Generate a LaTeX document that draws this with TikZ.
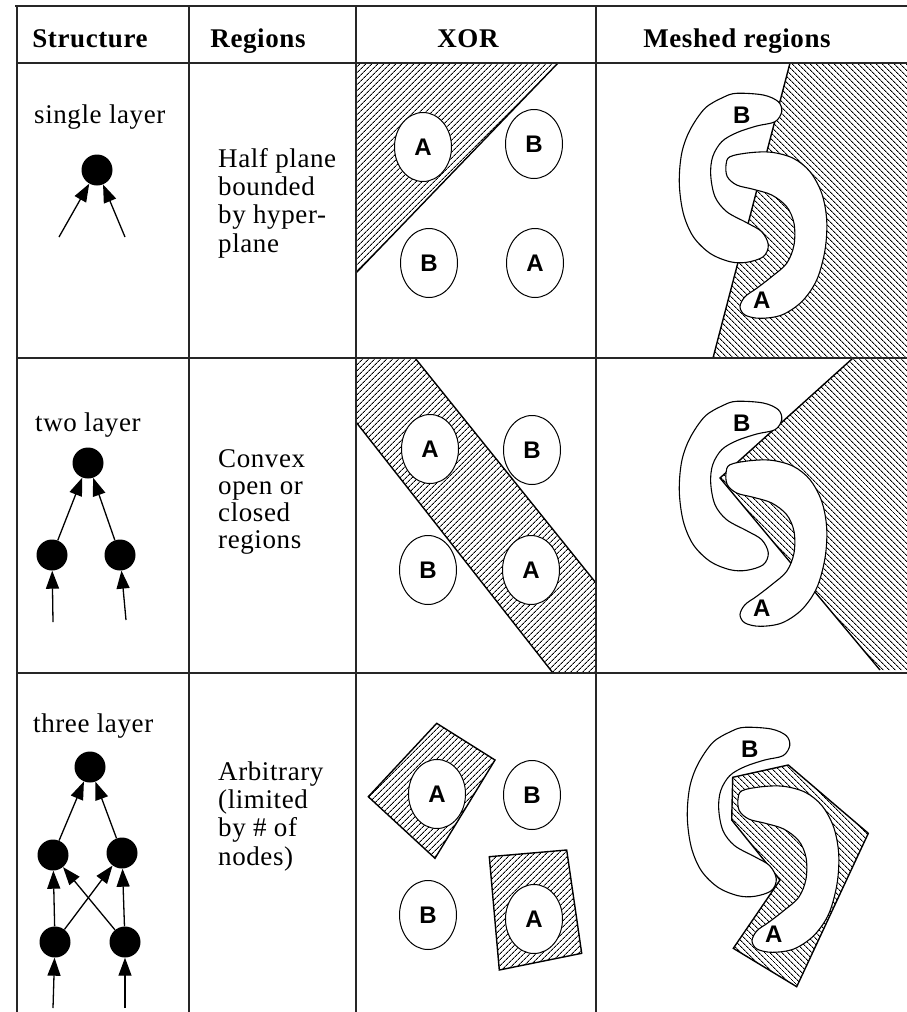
\documentclass[tikz,border=0pt]{standalone}
\usepackage{fontspec}
\setmainfont[LetterSpace=2.2]{Liberation Serif}
\newfontfamily\labfont{Liberation Sans}
\usetikzlibrary{arrows.meta,shapes.geometric,patterns.meta}
\tikzset{
  netarrow/.tip={Triangle[length=18pt,width=13pt]},
  blobB/.pic={
    \draw[blob] plot[smooth cycle, tension=0.55] coordinates {
      (736.7,93.3) (763.3,95) (778.3,101.7) (781.7,111.7) (775,121.7) (756.7,126)
      (736.7,132.7) (721.7,141.7) (712.7,156.7) (710.7,175) (715,196.7) (726.7,211.7)
      (746.7,222.7) (761.7,231.7) (768.3,245) (763.3,256.7) (746.7,262.3) (730,261.7)
      (710,253.3) (693.3,236.7) (683.3,213.3) (679.3,183.3) (681.7,153.3) (690,130)
      (705,108.3) (723.3,97.3)};
    \node[ab] (-lab) at (741.7,115) {B};
  },
  blobA/.pic={
    \draw[blob] plot[smooth cycle, tension=0.55] coordinates {
      (730,156.7) (750,152.7) (771.7,152.3) (793.3,158.3) (810,171.7) (821.7,193.3)
      (826.7,220) (825,250) (816.7,280) (801.7,301.7) (781.7,315) (760,318.3)
      (745,315) (740,306.7) (745,296.7) (756.7,288.3) (771.7,276.7) (786.7,263.3)
      (794,245) (794,223.3) (786.7,206.7) (771.7,195) (753.3,189.3) (736.7,185)
      (727.3,176.7) (726,165)};
    \node[ab] (-lab) at (761.7,300) {A};
  }
}
\begin{document}
\begin{tikzpicture}[x=1pt,y=-1pt,
  grid/.style={line width=2pt, draw=black!85},
  neuron/.style={circle, fill=black, minimum size=31pt, inner sep=0pt},
  arr/.style={line width=1.3pt, -netarrow},
  hdr/.style={font=\fontsize{27}{30}\selectfont\bfseries, anchor=base, inner sep=0pt},
  lbl/.style={font=\fontsize{27}{30}\selectfont, anchor=base west, inner sep=0pt},
  ell/.style={ellipse, draw, line width=1pt, fill=white, minimum width=57pt, minimum height=69pt, inner sep=0pt, font=\labfont\bfseries\fontsize{24}{26}\selectfont},
  hatchNE/.style={pattern={Lines[angle=45,distance=4pt,line width=1pt]}},
  hatchNW/.style={pattern={Lines[angle=-45,distance=4pt,line width=1pt]}},
  edge/.style={line width=1.4pt},
  blob/.style={draw, fill=white, line width=1.1pt},
  ab/.style={font=\labfont\bfseries\fontsize{24}{26}\selectfont, inner sep=0pt}
]
\fill[white] (0,0) rectangle (907,1012);
\useasboundingbox (0,0) rectangle (907,1012);

% header
\node[hdr] (h1) at (90,47) {Structure};
\node[hdr] (h2) at (258,47) {Regions};
\node[hdr] (h3) at (468,47) {XOR};
\node[hdr] (h4) at (737,47) {Meshed regions};

% structure labels
\node[lbl] (s1) at (34,123) {single layer};
\node[lbl] (s2) at (35,431) {two layer};
\node[lbl] (s3) at (33,732) {three layer};

% regions text
\node[lbl] (r1a) at (218,167) {Half plane};
\node[lbl] (r1b) at (218,195) {bounded};
\node[lbl] (r1c) at (218,223) {by hyper-};
\node[lbl] (r1d) at (218,252) {plane};
\node[lbl] (r2a) at (218,467) {Convex};
\node[lbl] (r2b) at (218,494) {open or};
\node[lbl] (r2c) at (218,521) {closed};
\node[lbl] (r2d) at (218,548) {regions};
\node[lbl] (r3a) at (218,780) {Arbitrary};
\node[lbl] (r3b) at (218,808) {(limited};
\node[lbl] (r3c) at (218,836) {by \# of};
\node[lbl] (r3d) at (218,865) {nodes)};

% networks
\node[neuron] (n1) at (97,170) {};
\coordinate (i11) at (59,237);
\coordinate (i12) at (125,237);
\draw[arr] (i11) -- (n1);
\draw[arr] (i12) -- (n1);

\node[neuron] (n21) at (88,463) {};
\node[neuron] (n22) at (52,555) {};
\node[neuron] (n23) at (120,555) {};
\draw[arr] (n22) -- (n21);
\draw[arr] (n23) -- (n21);
\coordinate (i21) at (53,622);
\coordinate (i22) at (126,620);
\draw[arr] (i21) -- (n22);
\draw[arr] (i22) -- (n23);

\node[neuron] (n31) at (90,767) {};
\node[neuron] (n32) at (53,855) {};
\node[neuron] (n33) at (122,853) {};
\node[neuron] (n34) at (55,942) {};
\node[neuron] (n35) at (125,942) {};
\draw[arr] (n32) -- (n31);
\draw[arr] (n33) -- (n31);
\draw[arr] (n34) -- (n32);
\draw[arr] (n34) -- (n33);
\draw[arr] (n35) -- (n32);
\draw[arr] (n35) -- (n33);
\coordinate (i31) at (53,1008);
\coordinate (i32) at (125,1008);
\draw[arr] (i31) -- (n34);
\draw[arr] (i32) -- (n35);

% XOR row 1
\fill[hatchNE] (356,63) -- (558,63) -- (356,273) -- cycle;
\draw[edge] (558,63) -- (356,273);
\node[ell] (x1a) at (423,147) {A};
\node[ell] (x1b) at (534,144) {B};
\node[ell] (x1c) at (429,263) {B};
\node[ell] (x1d) at (535,263) {A};

% XOR row 2
\fill[hatchNE] (356,358) -- (415,358) -- (596,583) -- (596,673) -- (553,673) -- (356,422) -- cycle;
\draw[edge] (415,358) -- (596,583);
\draw[edge] (356,422) -- (553,673);
\node[ell] (x2a) at (430,449) {A};
\node[ell] (x2b) at (532,450) {B};
\node[ell] (x2c) at (428,570) {B};
\node[ell] (x2d) at (531,570) {A};

% XOR row 3
\filldraw[hatchNE, edge] (436.7,723.3) -- (495,760) -- (435,858.3) -- (368.3,796.7) -- cycle;
\filldraw[hatchNE, edge] (489.3,856.7) -- (566.7,850) -- (581.7,953.3) -- (499.3,970) -- cycle;
\node[ell] (x3a) at (437,794) {A};
\node[ell] (x3b) at (532,795) {B};
\node[ell] (x3c) at (428,915) {B};
\node[ell] (x3d) at (534,919) {A};

% Meshed row 1
\fill[hatchNW] (790,63) -- (907,63) -- (907,358) -- (713,358) -- cycle;
\draw[edge] (790,63) -- (713,358);
\pic (m1b) at (0,0) {blobB};
\pic (m1a) at (0,0) {blobA};

% Meshed row 2
\fill[hatchNW] (853,358) -- (907,358) -- (907,670) -- (880,670) -- (720,478) -- cycle;
\draw[edge] (853,358) -- (720,478) -- (880,670);
\pic (m2b) at (0,308) {blobB};
\pic (m2a) at (0,308) {blobA};

% Meshed row 3
\filldraw[hatchNW, edge] (732.7,777.3) -- (788.3,765) -- (868.3,833.3) -- (796.7,986.7) -- (733.3,948.3) -- (780,880) -- (731.7,820) -- cycle;
\pic (m3b) at (8,634) {blobB};
\pic (m3a) at (12,634) {blobA};

% grid
\draw[grid] (15,6) -- (907,6);
\draw[grid] (17,63) -- (907,63);
\draw[grid] (17,358) -- (907,358);
\draw[grid] (17,673) -- (907,673);
\foreach \gx in {17,189,356,596} { \draw[grid] (\gx,6) -- (\gx,1012); }
\end{tikzpicture}
\end{document}
